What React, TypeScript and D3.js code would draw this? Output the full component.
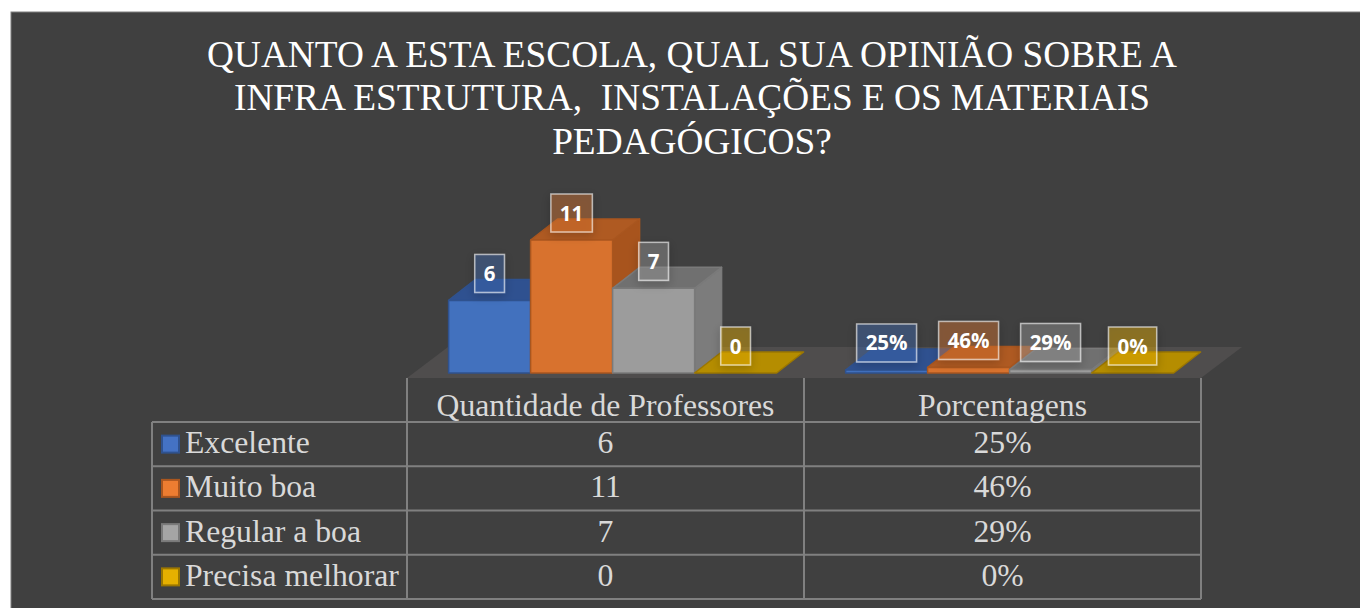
import React from "react";
import * as d3 from "d3";

const titleLines = [
  "QUANTO A ESTA ESCOLA, QUAL SUA OPINIÃO SOBRE A",
  "INFRA ESTRUTURA,  INSTALAÇÕES E OS MATERIAIS",
  "PEDAGÓGICOS?",
];
const categories = ["Quantidade de Professores", "Porcentagens"];
const seriesNames = ["Excelente", "Muito boa", "Regular a boa", "Precisa melhorar"];
const quantidade = [6, 11, 7, 0];
const porcentagens = [0.25, 0.46, 0.29, 0];
const quantidadeLabels = ["6", "11", "7", "0"];
const porcentagemLabels = ["25%", "46%", "29%", "0%"];

const palette = {
  base: ["#4472C4", "#ED7D31", "#A5A5A5", "#FFC000"],
  front: ["#4271BE", "#D8722E", "#9C9C9C", "#B88F00"],
  top: ["#2F5190", "#AF5A22", "#707070", "#B58D00"],
  side: ["#35599A", "#A8541D", "#7C7C7C", "#8F7000"],
  stroke: ["#2F528F", "#A9561F", "#7A7A7A", "#9C7700"],
  swatch: ["#4472C4", "#ED7D31", "#A5A5A5", "#E6B000"],
};

const W = 1360;
const H = 608;
const plotLeft = 407;
const plotRight = 1201;
const tableLeft = 152;
const floorFront = 378;
const floorDX = 41;
const floorDY = -31;
const barBase = 373;
const barShift = 6.6;
const dX = 27;
const dY = -21;
const headerBottom = 422;
const rowH = 44.25;
const SERIF = "Liberation Serif";
const LABEL_FAMILY = "Open Sans";
const LABEL_SIZE = 20.5;

let measureCtx: CanvasRenderingContext2D | null = null;
function measure(t: string) {
  if (!measureCtx) measureCtx = document.createElement("canvas").getContext("2d");
  if (!measureCtx) return t.length * 12;
  measureCtx.font = `bold ${LABEL_SIZE}px "${LABEL_FAMILY}"`;
  return measureCtx.measureText(t).width;
}

export default function App() {
  const x = d3.scaleBand<string>().domain(categories).range([plotLeft, plotRight]);
  const inner = d3.scaleBand<string>().domain(seriesNames).range([35, 363]).padding(0);
  const h = d3.scaleLinear().domain([0, 11]).range([0, 133]);

  const groups = categories.map((c, ci) => ({
    cat: c,
    values: ci === 0 ? quantidade : porcentagens,
    labels: ci === 0 ? quantidadeLabels : porcentagemLabels,
  }));

  const bw = inner.bandwidth();
  const bars: any[] = [];
  groups.forEach((g) => {
    seriesNames.forEach((s, si) => {
      const bx = (x(g.cat) as number) + (inner(s) as number) + barShift;
      const bh = h(g.values[si]);
      const top = barBase - bh;
      bars.push({ bx, top, bh, si, label: g.labels[si], key: g.cat + s });
    });
  });

  const rowTops = seriesNames.map((_, i) => headerBottom + i * rowH);
  const tableBottom = headerBottom + seriesNames.length * rowH;
  const colCenters = categories.map((c) => (x(c) as number) + x.bandwidth() / 2);

  return (
    <svg
      width={W}
      height={H}
      style={{ position: "absolute", left: 0, top: 0 }}
      xmlns="http://www.w3.org/2000/svg"
    >
      <defs>
        <filter id="lblShadow" x="-50%" y="-50%" width="200%" height="200%">
          <feDropShadow dx="0" dy="3" stdDeviation="5" floodColor="#000" floodOpacity="0.45" />
        </filter>
      </defs>
      <rect x={11} y={12} width={W + 10} height={H + 10} fill="#404040" stroke="#7f7f7f" strokeWidth={1} />

      {titleLines.map((t, i) => (
        <text
          key={i}
          x={692}
          y={67 + i * 43.3}
          textAnchor="middle"
          fill="#ffffff"
          fontFamily={SERIF}
          fontSize={37.3}
          xmlSpace="preserve"
          style={{ whiteSpace: "pre" }}
        >
          {t}
        </text>
      ))}

      {/* floor */}
      <polygon
        points={`${plotLeft},${floorFront} ${plotRight},${floorFront} ${plotRight + floorDX},${floorFront + floorDY} ${plotLeft + floorDX},${floorFront + floorDY}`}
        fill="#4f4d4d"
      />

      {/* bars */}
      {bars.map((b) => (
        <g key={b.key} strokeWidth={1.5} stroke={palette.stroke[b.si]} strokeLinejoin="round">
          {b.bh > 0.01 && (
            <polygon
              points={`${b.bx + bw},${b.top} ${b.bx + bw + dX},${b.top + dY} ${b.bx + bw + dX},${barBase + dY} ${b.bx + bw},${barBase}`}
              fill={palette.side[b.si]}
            />
          )}
          <polygon
            points={`${b.bx},${b.top} ${b.bx + dX},${b.top + dY} ${b.bx + bw + dX},${b.top + dY} ${b.bx + bw},${b.top}`}
            fill={palette.top[b.si]}
          />
          {b.bh > 0.01 && <rect x={b.bx} y={b.top} width={bw} height={b.bh} fill={palette.front[b.si]} />}
        </g>
      ))}

      {/* data labels */}
      {bars.map((b) => {
        const tw = measure(b.label);
        const boxW = tw + 18;
        const cx = b.bx + bw / 2;
        const cy = b.top - 27;
        return (
          <g key={"l" + b.key}>
            <rect
              x={cx - boxW / 2}
              y={cy - 19}
              width={boxW}
              height={38}
              fill={palette.base[b.si]}
              fillOpacity={0.35}
              stroke="#ffffff"
              strokeOpacity={0.6}
              strokeWidth={1.5}
              filter="url(#lblShadow)"
            />
            <text
              x={cx}
              y={cy + 7.5}
              textAnchor="middle"
              fill="#ffffff"
              fontFamily={LABEL_FAMILY}
              fontWeight={700}
              fontSize={LABEL_SIZE}
            >
              {b.label}
            </text>
          </g>
        );
      })}

      {/* data table */}
      <g stroke="#808080" strokeWidth={2}>
        {[plotLeft, (x(categories[1]) as number), plotRight].map((vx, i) => (
          <line key={"v" + i} x1={vx} x2={vx} y1={floorFront} y2={tableBottom} />
        ))}
        <line x1={tableLeft} x2={tableLeft} y1={headerBottom} y2={tableBottom} />
        {[...rowTops, tableBottom].map((hy, i) => (
          <line key={"h" + i} x1={tableLeft} x2={plotRight} y1={hy} y2={hy} />
        ))}
      </g>
      <g fill="#d9d9d9" fontFamily={SERIF} fontSize={31.7}>
        {categories.map((c, i) => (
          <text key={c} x={colCenters[i]} y={416} textAnchor="middle">
            {c}
          </text>
        ))}
        {seriesNames.map((s, si) => (
          <g key={s}>
            <rect
              x={162}
              y={rowTops[si] + rowH / 2 - 8.5}
              width={17}
              height={17}
              fill={palette.swatch[si]}
              stroke={palette.stroke[si]}
              strokeWidth={2}
            />
            <text x={185} y={rowTops[si] + 31}>
              {s}
            </text>
            <text x={colCenters[0]} y={rowTops[si] + 31} textAnchor="middle">
              {quantidadeLabels[si]}
            </text>
            <text x={colCenters[1]} y={rowTops[si] + 31} textAnchor="middle">
              {porcentagemLabels[si]}
            </text>
          </g>
        ))}
      </g>
    </svg>
  );
}
